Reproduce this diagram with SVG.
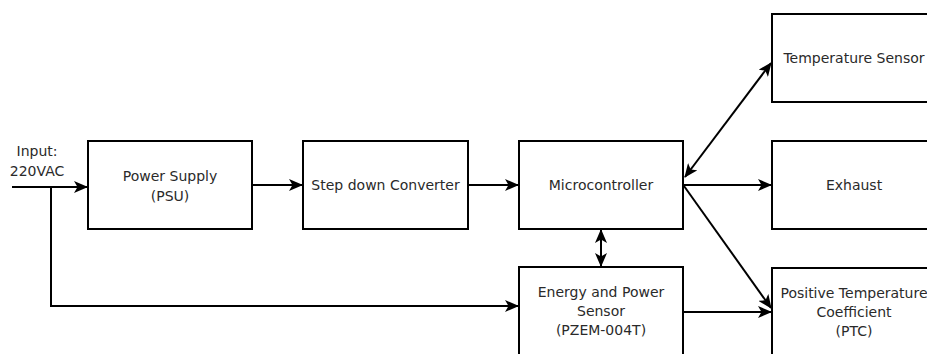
<svg xmlns="http://www.w3.org/2000/svg" width="927" height="354" viewBox="0 0 927 354">
<style>
.box{fill:#fff;stroke:#000;stroke-width:2}
.t{font-family:"DejaVu Sans",sans-serif;font-size:14px;fill:#2a2a2a;text-anchor:middle}
.c{fill:none;stroke:#000;stroke-width:2}
</style>
<defs>
<marker id="ah" viewBox="0 0 14 12" refX="13" refY="6" markerWidth="14" markerHeight="12" markerUnits="userSpaceOnUse" orient="auto-start-reverse">
<path d="M0,0 L14,6 L0,12 L3.5,6 Z" fill="#000"/>
</marker>
</defs>
<rect width="927" height="354" fill="#fff"/>
<g id="connectors">
<path class="c" d="M12,187 L87,187" marker-end="url(#ah)"/>
<path class="c" d="M51,187 L51,306 L518,306" marker-end="url(#ah)"/>
<path class="c" d="M252,185 L302,185" marker-end="url(#ah)"/>
<path class="c" d="M468,185 L518,185" marker-end="url(#ah)"/>
<path class="c" d="M601,230 L601,266" marker-start="url(#ah)" marker-end="url(#ah)"/>
<path class="c" d="M685,177 L771,63" marker-start="url(#ah)" marker-end="url(#ah)"/>
<path class="c" d="M683,185 L771,185" marker-end="url(#ah)"/>
<path class="c" d="M684,186 L771,308" marker-end="url(#ah)"/>
<path class="c" d="M683,312 L771,312" marker-end="url(#ah)"/>
</g>
<g id="input-label">
<text class="t" x="37" y="156">Input:</text>
<text class="t" x="37" y="176">220VAC</text>
</g>
<g id="psu">
<rect class="box" x="88" y="141" width="164" height="88"/>
<text class="t" x="170" y="181">Power Supply</text>
<text class="t" x="170" y="201">(PSU)</text>
</g>
<g id="stepdown">
<rect class="box" x="303" y="141" width="165" height="88"/>
<text class="t" x="385.5" y="190">Step down Converter</text>
</g>
<g id="micro">
<rect class="box" x="519" y="141" width="164" height="88"/>
<text class="t" x="601" y="190">Microcontroller</text>
</g>
<g id="energy">
<rect class="box" x="519" y="267" width="164" height="100"/>
<text class="t" x="601" y="297">Energy and Power</text>
<text class="t" x="601" y="316">Sensor</text>
<text class="t" x="601" y="335">(PZEM-004T)</text>
</g>
<g id="tempsensor">
<rect class="box" x="772" y="14" width="164" height="88"/>
<text class="t" x="854" y="63">Temperature Sensor</text>
</g>
<g id="exhaust">
<rect class="box" x="772" y="141" width="164" height="88"/>
<text class="t" x="854" y="190">Exhaust</text>
</g>
<g id="ptc">
<rect class="box" x="772" y="268" width="164" height="100"/>
<text class="t" x="854" y="298">Positive Temperature</text>
<text class="t" x="854" y="317">Coefficient</text>
<text class="t" x="854" y="336">(PTC)</text>
</g>
</svg>
